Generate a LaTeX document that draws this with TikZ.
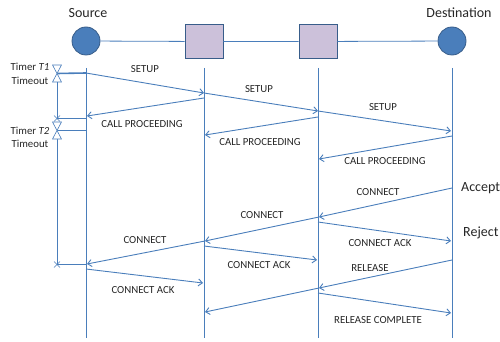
\documentclass[tikz,border=0pt]{standalone}
\usepackage{fontspec}
\setmainfont{Carlito}
\usetikzlibrary{arrows.meta}
\definecolor{lblue}{HTML}{4A7EBB}
\definecolor{dblue}{HTML}{385D8A}
\definecolor{lav}{HTML}{CCC1DA}
\tikzset{
  msg/.style={draw=lblue, line width=0.9pt, -{Straight Barb[length=4pt,width=7pt,line width=0.9pt]}},
  lifeline/.style={draw=lblue, line width=0.8pt},
  mlabel/.style={font=\fontsize{10.8}{12}\selectfont, text=black!85, inner sep=0pt},
  biglabel/.style={font=\fontsize{14}{16}\selectfont, text=black!85, inner sep=0pt},
  endpt/.style={circle, draw=dblue, fill=lblue, line width=0.8pt, minimum size=28pt, inner sep=0pt},
  switchbox/.style={rectangle, draw=dblue, fill=lav, line width=0.8pt, minimum width=38pt, minimum height=34pt, inner sep=0pt},
  timerline/.style={draw=lblue, line width=0.8pt},
  hglass/.style={draw=lblue, fill=white, line width=0.6pt},
}
\begin{document}
\begin{tikzpicture}[x=1pt,y=-1pt]
\useasboundingbox (0,0) rectangle (500,342);
% top row
\node[endpt] (src) at (86,41) {};
\node[switchbox] (sw1) at (204,41.5) {};
\node[switchbox] (sw2) at (318,41.5) {};
\node[endpt] (dst) at (452,41) {};
\draw[lifeline] (src) -- (sw1) -- (sw2) -- (dst);
\node[biglabel] (srclab) at (88,13) {Source};
\node[biglabel] (dstlab) at (459,13) {Destination};
% lifelines
\coordinate (a0) at (86,68); \coordinate (a1) at (86,338);
\coordinate (b0) at (204,68); \coordinate (b1) at (204,338);
\coordinate (c0) at (318,68); \coordinate (c1) at (318,338);
\coordinate (d0) at (452,68); \coordinate (d1) at (452,338);
\draw[lifeline] (a0) -- (a1);
\draw[lifeline] (b0) -- (b1);
\draw[lifeline] (c0) -- (c1);
\draw[lifeline] (d0) -- (d1);
% message endpoints
\coordinate (s1a) at (86,73);  \coordinate (s1b) at (204,93);
\coordinate (s2b) at (318,111);
\coordinate (s3b) at (451,131);
\coordinate (p1a) at (204,98); \coordinate (p1b) at (87,116);
\coordinate (p2a) at (318,117); \coordinate (p2b) at (205,135);
\coordinate (p3a) at (452,136); \coordinate (p3b) at (319,159);
\coordinate (k1a) at (452,188); \coordinate (k1b) at (319,217);
\coordinate (k2b) at (205,241);
\coordinate (k3b) at (87,264);
\coordinate (ka1a) at (318,222); \coordinate (ka1b) at (451,241);
\coordinate (ka2a) at (204,246); \coordinate (ka2b) at (317,260);
\coordinate (ka3a) at (86,269); \coordinate (ka3b) at (203,283);
\coordinate (r1a) at (452,260); \coordinate (r1b) at (319,288);
\coordinate (r2b) at (205,312);
\coordinate (rc1a) at (318,293); \coordinate (rc1b) at (451,313);
% messages
\draw[msg] (s1a) -- (s1b);
\draw[msg] (s1b) -- (s2b);
\draw[msg] (s2b) -- (s3b);
\draw[msg] (p1a) -- (p1b);
\draw[msg] (p2a) -- (p2b);
\draw[msg] (p3a) -- (p3b);
\draw[msg] (k1a) -- (k1b);
\draw[msg] (k1b) -- (k2b);
\draw[msg] (k2b) -- (k3b);
\draw[msg] (ka1a) -- (ka1b);
\draw[msg] (ka2a) -- (ka2b);
\draw[msg] (ka3a) -- (ka3b);
\draw[msg] (r1a) -- (r1b);
\draw[msg] (r1b) -- (r2b);
\draw[msg] (rc1a) -- (rc1b);
% labels
\node[mlabel] (l1) at (145,69) {SETUP};
\node[mlabel] (l2) at (259,89) {SETUP};
\node[mlabel] (l3) at (383,107) {SETUP};
\node[mlabel] (l4) at (142,124) {CALL PROCEEDING};
\node[mlabel] (l5) at (260,142) {CALL PROCEEDING};
\node[mlabel] (l6) at (385,161) {CALL PROCEEDING};
\node[mlabel] (l7) at (378,192) {CONNECT};
\node[mlabel] (l8) at (262,215) {CONNECT};
\node[mlabel] (l9) at (145,240) {CONNECT};
\node[mlabel] (l10) at (380,243) {CONNECT ACK};
\node[mlabel] (l11) at (259,265) {CONNECT ACK};
\node[mlabel] (l12) at (143,290) {CONNECT ACK};
\node[mlabel] (l13) at (370,268) {RELEASE};
\node[mlabel] (l14) at (378,320) {RELEASE COMPLETE};
\node[biglabel, anchor=west] (acc) at (461,188) {Accept};
\node[biglabel, anchor=west] (rej) at (463,233) {Reject};
% timers
\node[mlabel] (t1a) at (30,67) {Timer \textit{T1}};
\node[mlabel] (t1b) at (30,81) {Timeout};
\node[mlabel] (t2a) at (30,131) {Timer \textit{T2}};
\node[mlabel] (t2b) at (30,144) {Timeout};
\coordinate (h1) at (57,73.5);
\coordinate (h2) at (57,130.5);
\coordinate (x1) at (57,118.5);
\coordinate (x2) at (57,264.5);
\draw[draw=lblue, line width=1.6pt] (h1) -- (s1a);
\draw[timerline] (h2) -- (86,130.5);
\draw[timerline] (57,82) -- (x1) -- (86,118.5);
\draw[timerline] (57,139) -- (x2) -- (86,264.5);
\foreach \c in {h1,h2}{
  \draw[hglass] ([xshift=-4.5pt,yshift=8.5pt]\c) -- ([xshift=4.5pt,yshift=8.5pt]\c) -- (\c) -- cycle;
  \draw[hglass] ([xshift=-4.5pt,yshift=-8.5pt]\c) -- ([xshift=4.5pt,yshift=-8.5pt]\c) -- (\c) -- cycle;
}
\foreach \c in {x1,x2}{
  \draw[draw=lblue, line width=0.5pt] ([xshift=-3pt,yshift=-3pt]\c) -- ([xshift=3pt,yshift=3pt]\c);
  \draw[draw=lblue, line width=0.5pt] ([xshift=-3pt,yshift=3pt]\c) -- ([xshift=3pt,yshift=-3pt]\c);
}
\end{tikzpicture}
\end{document}
